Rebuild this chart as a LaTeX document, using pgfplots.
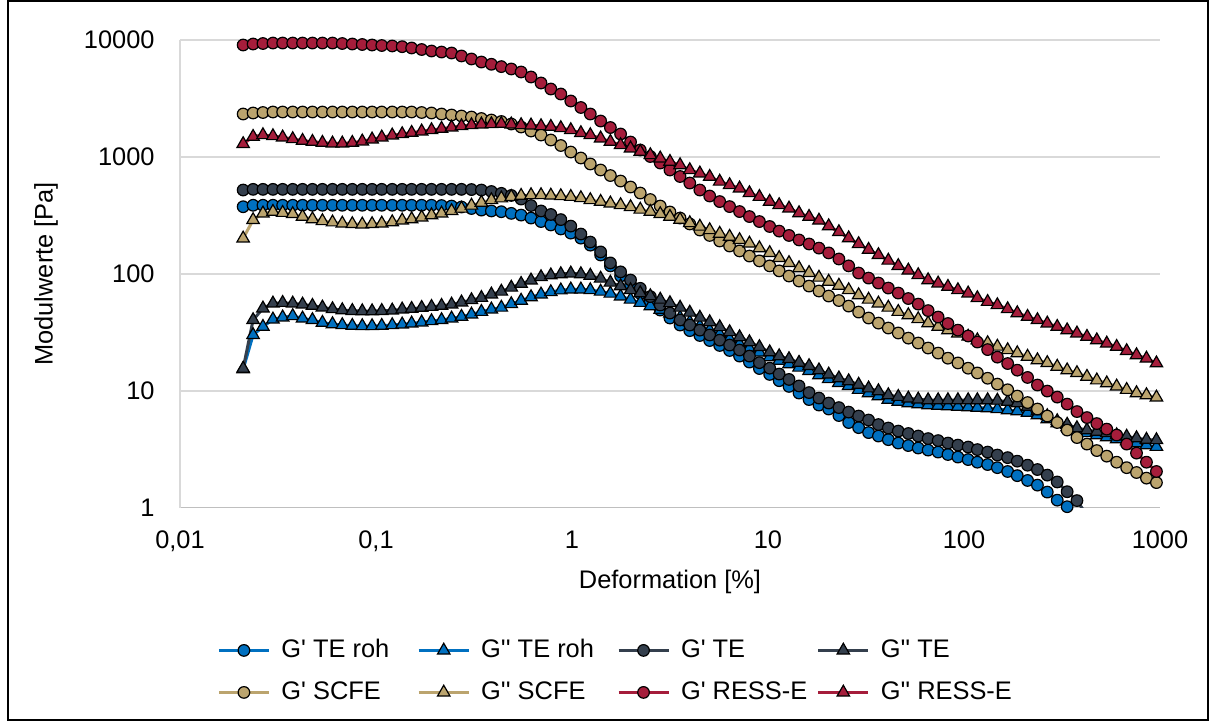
\documentclass[border=0pt]{standalone}
\usepackage{pgfplots}
\pgfplotsset{compat=1.18}
\usepackage{pgfplotstable}
\usepackage{fontspec}
\newfontfamily\arial{Liberation Sans}

\definecolor{roh}{HTML}{0070C0}
\definecolor{te}{HTML}{343F4D}
\definecolor{scfe}{HTML}{BBA46E}
\definecolor{ress}{HTML}{A51D3B}
\definecolor{gridgray}{HTML}{D9D9D9}
\definecolor{axisgray}{HTML}{BFBFBF}

% strain sweep, G' / G'' in Pa
\pgfplotstableread{
x      gproh gpproh gpte gppte gpscfe gppscfe gpress gppress
0.0210 375   15.3   521  15.5  2328   201     9060   1290
0.0236 386   30.0   528  40.3  2375   289     9240   1489
0.0265 386   35.3   528  50.7  2398   329     9330   1539
0.0298 386   40.8   528  55.9  2422   340     9420   1509
0.0334 386   42.5   528  56.6  2422   333     9420   1471
0.0376 386   43.6   528  55.9  2422   325     9420   1423
0.0422 386   41.6   528  54.8  2422   309     9420   1376
0.0474 386   40.3   528  53.4  2422   294     9420   1349
0.0533 386   38.2   528  51.7  2422   283     9420   1323
0.0600 386   37.2   528  50.0  2422   276     9420   1307
0.0673 386   36.5   528  49.0  2422   270     9330   1307
0.0757 386   36.0   528  48.3  2422   267     9240   1323
0.0851 386   35.8   528  48.0  2422   265     9150   1360
0.0955 386   35.8   528  48.0  2422   267     9060   1414
0.107  386   36.0   528  48.3  2422   270     8970   1471
0.121  386   36.5   528  48.7  2422   277     8890   1530
0.136  386   37.0   528  49.7  2422   287     8765   1570
0.152  386   37.7   528  50.3  2422   294     8545   1611
0.171  386   38.5   528  51.3  2398   304     8290   1656
0.192  386   39.5   528  52.3  2375   318     8050   1699
0.216  384   40.3   528  53.4  2328   329     7890   1743
0.243  380   41.6   528  54.8  2283   345     7740   1792
0.273  373   43.0   528  57.1  2238   362     7300   1838
0.307  362   45.0   526  59.7  2194   384     6880   1875
0.345  351   47.4   521  62.4  2130   407     6480   1901
0.388  345   49.7   506  66.8  2069   428     6200   1912
0.436  340   51.5   488  70.6  2009   443     5920   1923
0.490  329   55.2   468  76.4  1912   456     5650   1901
0.550  318   59.1   436  82.3  1803   466     5325   1875
0.618  300   63.3   384  88.0  1666   472     4826   1864
0.695  280   66.8   345  93.9  1539   472     4288   1838
0.780  262   69.9   322  97.3  1395   468     3809   1813
0.877  242   72.4   291  99.6  1252   463     3452   1767
0.986  223   73.7   256  101   1101   456     3008   1699
1.11   202   73.7   219  99.6  979    445     2647   1602
1.24   176   72.7   187  96.7  870    428     2328   1539
1.40   145   70.6   154  91.2  773    414     2028   1443
1.57   117   67.9   124  84.3  693    401     1784   1349
1.77   95.8  64.2   104  78.6  622    388     1570   1264
1.99   80.2  60.3   88.5 72.7  553    373     1341   1185
2.23   67.9  56.6   75.2 68.5  491    355     1146   1108
2.51   58.0  53.0   63.9 64.6  432    340     1008   1038
2.82   49.0  49.5   54.1 60.3  380    325     887    973
3.16   41.9  45.9   46.2 56.3  338    308     773    910
3.56   36.5  42.3   40.3 51.5  300    291     680    852
3.99   32.7  38.7   36.5 46.7  267    272     598    773
4.49   29.7  35.8   33.0 42.3  237    254     521    724
5.04   26.9  33.0   30.0 38.7  213    237     463    677
5.67   24.4  30.5   27.1 35.1  191    221     415    616
6.37   22.1  27.7   24.6 31.8  173    208     376    575
7.16   19.8  25.1   22.3 28.8  157    195     341    539
8.04   17.6  23.0   19.8 26.1  142    182     309    491
9.04   15.5  21.3   17.4 23.7  129    166     280    456
10.2   13.8  19.4   15.6 21.4  117    151     254    415
11.4   12.2  18.1   13.9 19.8  106    137     232    388
12.8   10.9  16.9   12.5 18.7  95.8   124     213    363
14.4   9.56  15.8   11.0 17.4  86.8   112     195    331
16.2   8.41  14.8   9.65 16.3  78.6   102     180    308
18.2   7.55  13.6   8.66 15.0  71.3   93.0    166    286
20.4   6.98  12.6   7.85 13.8  64.6   85.9    151    256
23.0   6.14  11.7   7.18 12.8  59.1   79.4    134    228
25.8   5.35  11.0   6.57 12.1  53.0   72.7    117    202
29.0   4.84  10.2   6.08 11.3  47.1   65.8    101.6  180
32.6   4.39  9.56   5.62 10.5  41.9   60.3    92.0   161
36.6   4.10  9.01   5.14 9.94  37.9   55.9    83.4   145
41.1   3.82  8.41   4.80 9.19  34.4   51.5    75.6   130
46.2   3.57  8.08   4.52 8.89  31.2   47.4    68.5   117
52.0   3.40  7.85   4.31 8.61  28.2   44.4    61.5   107
58.4   3.24  7.69   4.10 8.44  25.6   41.1    55.1   97.7
65.6   3.11  7.55   3.90 8.33  23.2   37.9    48.5   88.5
73.8   2.99  7.47   3.75 8.33  21.0   35.3    42.7   82.9
82.8   2.85  7.40   3.57 8.33  19.0   33.0    37.6   77.6
93.1   2.71  7.32   3.43 8.33  17.3   31.0    33.0   72.7
105    2.58  7.25   3.30 8.33  15.6   29.1    29.4   68.1
117    2.45  7.18   3.14 8.33  14.2   27.1    26.1   62.1
132    2.34  7.11   2.99 8.33  12.8   25.6    22.5   57.7
148    2.20  6.98   2.82 8.25  11.4   23.9    19.4   54.1
167    2.04  6.84   2.68 8.08  10.2   22.3    17.1   50.0
187    1.88  6.70   2.50 7.85  9.01   21.0    15.0   46.2
211    1.71  6.51   2.31 7.32  7.93   19.6    13.0   43.0
237    1.56  6.20   2.12 6.70  6.98   18.3    11.2   40.3
266    1.36  5.73   1.90 6.08  6.08   17.3    9.94   37.7
299    1.16  5.29   1.66 5.51  5.35   16.1    8.83   35.3
336    1.02  4.89   1.37 5.14  4.61   15.0    7.69   33.0
377    nan   4.57   1.15 4.80  3.98   14.2    6.64   31.0
424    nan   4.35   nan  4.61  3.50   13.2    5.90   29.0
476    nan   4.18   nan  4.48  3.08   12.3    5.24   27.1
535    nan   4.02   nan  4.35  2.76   11.6    4.70   25.4
601    nan   3.86   nan  4.18  2.45   10.9    4.18   23.8
676    nan   3.71   nan  4.06  2.20   10.2    3.50   21.9
759    nan   3.57   nan  3.94  2.00   9.56    2.93   20.2
853    nan   3.43   nan  3.82  1.79   9.19    2.45   18.9
959    nan   3.32   nan  3.79  1.64   8.78    2.04   17.2
}\modul

\newcommand{\legtxt}[1]{\makebox[73.4pt][l]{\hspace{5.5pt}#1}}

\pgfplotsset{
  gp/.style={color=#1, line width=1.5pt, mark=*, mark size=2.9pt,
    mark options={solid, draw=black, line width=0.6pt, fill=#1}},
  gpp/.style={color=#1, line width=1.5pt, mark=triangle*, mark size=3.6pt,
    mark options={solid, draw=black, line width=0.6pt, fill=#1}},
}

\begin{document}
\begin{tikzpicture}[font=\arial\fontsize{12.7}{15}\selectfont]
\useasboundingbox (-90pt,-107.15pt) rectangle (517.5pt,253.85pt);
\begin{axis}[
  xmode=log, ymode=log,
  scale only axis, width=490pt, height=233.85pt,
  xmin=0.01, xmax=1000, ymin=1, ymax=10000,
  xtick={0.01,0.1,1,10,100,1000},
  xticklabels={{0,01},{0,1},1,10,100,1000},
  ytick={1,10,100,1000,10000},
  yticklabels={1,10,100,1000,10000},
  xminorticks=false, yminorticks=false,
  major tick length=0pt, tick style={draw=none},
  ymajorgrids, major grid style={draw=gridgray, line width=0.75pt},
  axis x line*=bottom, axis y line*=left,
  x axis line style={-, draw=axisgray, line width=0.75pt},
  y axis line style={-, draw=gridgray, line width=0.75pt},
  xticklabel style={anchor=north, inner sep=0pt, yshift=-11.5pt},
  yticklabel style={anchor=east, inner sep=0pt, xshift=-12.5pt},
  xlabel={Deformation [\%]},
  ylabel={Modulwerte [Pa]},
  xlabel style={at={(axis description cs:0.5,0)}, anchor=north, inner sep=0pt, yshift=-31pt},
  ylabel style={at={(axis description cs:0,0.5)}, anchor=center, inner sep=0pt, yshift=67pt},
  legend columns=4,
  legend cell align=left,
  legend style={at={(axis description cs:0.0378,-0.2765)}, anchor=north west,
    draw=none, fill=none, inner sep=0pt, row sep=8pt, column sep=0pt,
    nodes={inner sep=0pt, text height=10pt, text depth=3pt}},
  legend image code/.code={\draw[mark repeat=2, mark phase=2]
    plot coordinates {(0pt,0pt) (12.5pt,0pt) (25pt,0pt)};},
]
\addplot[gp=roh]   table[x=x, y=gproh]   {\modul};
\addlegendentry{\legtxt{G' TE roh}}
\addplot[gpp=roh]  table[x=x, y=gpproh]  {\modul};
\addlegendentry{\legtxt{G'' TE roh}}
\addplot[gp=te]    table[x=x, y=gpte]    {\modul};
\addlegendentry{\legtxt{G' TE}}
\addplot[gpp=te]   table[x=x, y=gppte]   {\modul};
\addlegendentry{\legtxt{G'' TE}}
\addplot[gp=scfe]  table[x=x, y=gpscfe]  {\modul};
\addlegendentry{\legtxt{G' SCFE}}
\addplot[gpp=scfe] table[x=x, y=gppscfe] {\modul};
\addlegendentry{\legtxt{G'' SCFE}}
\addplot[gp=ress]  table[x=x, y=gpress]  {\modul};
\addlegendentry{\legtxt{G' RESS-E}}
\addplot[gpp=ress] table[x=x, y=gppress] {\modul};
\addlegendentry{\legtxt{G'' RESS-E}}
% lines running on below the axis
\addplot[forget plot, roh, line width=1.5pt] coordinates {(336,1.02) (377,0.79)};
\addplot[forget plot, te, line width=1.5pt] coordinates {(377,1.15) (424,0.86)};
\end{axis}
\draw[black, line width=0.75pt] (-86pt,-106.15pt) rectangle (514pt,253.35pt);
\end{tikzpicture}
\end{document}
